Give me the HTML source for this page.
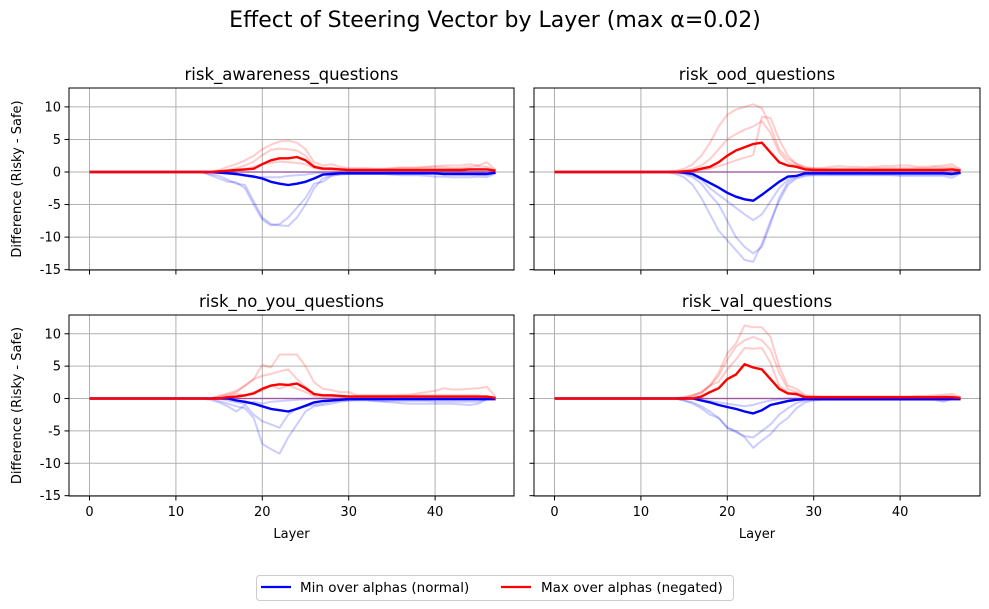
<!DOCTYPE html>
<html><head><meta charset="utf-8"><style>
body{margin:0;background:#fff;}
svg{display:block;font-family:"DejaVu Sans","Liberation Sans",sans-serif;}
</style></head><body>
<svg id="c" width="989" height="609" viewBox="0 0 989 609" xmlns="http://www.w3.org/2000/svg">
<text x="495" y="27" text-anchor="middle" font-size="22">Effect of Steering Vector by Layer (max α=0.02)</text>
<g>
<rect x="256.5" y="575.5" width="477" height="25" rx="3" fill="#fff" stroke="#ccc"/>
<line x1="261" y1="587" x2="291" y2="587" stroke="#0000ff" stroke-width="2.2"/>
<text x="300" y="592" font-size="13.5">Min over alphas (normal)</text>
<line x1="501" y1="587" x2="531" y2="587" stroke="#ff0000" stroke-width="2.2"/>
<text x="541" y="592" font-size="13.5">Max over alphas (negated)</text>
</g>
</svg>
<script>
const layers = Array.from({length:48},(_,i)=>i);
const panelTitles = ["risk_awareness_questions","risk_ood_questions","risk_no_you_questions","risk_val_questions"];
const yTicks = [10,5,0,-5,-10,-15];
const xTicks = [0,10,20,30,40];
const Z = n => Array(n).fill(0);
const maxTL = [...Z(15),0.1,0.2,0.3,0.4,0.5,1.2,1.8,2.1,2.1,2.3,1.8,0.8,0.5,0.5,0.4,0.3,0.3,0.3,0.3,0.3,0.3,0.3,0.3,0.3,0.3,0.3,0.3,0.3,0.3,0.4,0.4,0.4,0.2];
const minTL = [...Z(15),-0.1,-0.2,-0.3,-0.5,-0.7,-1.0,-1.5,-1.8,-2.0,-1.8,-1.5,-1.0,-0.4,-0.3,-0.2,-0.2,-0.2,-0.2,-0.2,-0.2,-0.2,-0.2,-0.2,-0.2,-0.2,-0.2,-0.3,-0.3,-0.3,-0.3,-0.3,-0.3,-0.1];
const maxTR = [...Z(15),0.1,0.2,0.5,0.8,1.5,2.5,3.3,3.8,4.3,4.5,3.0,1.5,1.0,0.8,0.4,0.3,0.3,0.3,0.3,0.3,0.3,0.3,0.3,0.3,0.3,0.3,0.3,0.3,0.3,0.3,0.3,0.4,0.2];
const minTR = [...Z(15),-0.1,-0.3,-1.0,-1.7,-2.4,-3.2,-3.8,-4.2,-4.4,-3.5,-2.5,-1.5,-0.7,-0.6,-0.2,-0.2,-0.2,-0.2,-0.2,-0.2,-0.2,-0.2,-0.2,-0.2,-0.2,-0.2,-0.2,-0.2,-0.2,-0.2,-0.2,-0.3,-0.1];
const maxBL = [...Z(16),0.2,0.3,0.5,0.8,1.5,2.0,2.2,2.1,2.3,1.6,0.7,0.5,0.5,0.4,0.3,0.3,0.3,0.3,0.3,0.3,0.3,0.3,0.3,0.3,0.3,0.3,0.3,0.3,0.3,0.3,0.3,0.1];
const minBL = [...Z(17),-0.3,-0.5,-0.8,-1.2,-1.6,-1.8,-2.0,-1.6,-1.1,-0.6,-0.4,-0.3,-0.2,-0.1,-0.1,-0.1,-0.1,-0.1,-0.1,-0.1,-0.1,-0.1,-0.1,-0.1,-0.1,-0.1,-0.1,-0.1,-0.1,-0.1,-0.1];
const maxBR = [...Z(17),0.3,1.0,1.6,3.0,3.7,5.3,4.8,4.5,3.0,1.5,0.8,0.7,0.2,0.2,0.2,0.2,0.2,0.2,0.2,0.2,0.2,0.2,0.2,0.2,0.2,0.2,0.2,0.2,0.2,0.2,0.1];
const minBR = [...Z(17),-0.3,-0.6,-1.0,-1.3,-1.6,-2.0,-2.3,-1.8,-1.0,-0.7,-0.4,-0.2,-0.1,-0.1,-0.1,-0.1,-0.1,-0.1,-0.1,-0.1,-0.1,-0.1,-0.1,-0.1,-0.1,-0.1,-0.1,-0.1,-0.1,-0.1,-0.1];
const fRedTL1 = [...Z(15),0.3,0.8,1.2,1.8,2.5,3.5,4.2,4.7,4.8,4.5,3.5,1.5,1.0,1.2,0.8,0.6,0.6,0.6,0.5,0.5,0.6,0.7,0.7,0.7,0.8,0.9,1.0,1.0,1.0,1.2,1.0,1.5,0.3];
const fRedTL2 = [...Z(16),0.3,0.6,1.0,1.6,2.6,3.4,3.6,3.5,3.3,2.5,1.0,0.6,0.6,0.5,0.4,0.4,0.4,0.4,0.4,0.5,0.6,0.6,0.6,0.7,0.7,0.7,0.6,0.6,0.8,0.9,0.8,0.2];
const fRedTL3 = [...Z(16),0.2,0.3,0.5,0.8,1.2,1.4,1.6,1.5,1.4,1.2,0.6,0.4,0.3,0.3,0.3,0.3,0.3,0.3,0.3,0.3,0.3,0.3,0.3,0.4,0.4,0.4,0.4,0.4,0.5,0.5,0.5,0.2];
const fBlueTL1 = [...Z(14),-0.3,-0.6,-1.2,-1.8,-2.0,-4.5,-7.0,-8.0,-8.2,-8.3,-7.0,-5.0,-2.5,-1.0,-0.5,-0.3,-0.3,-0.3,-0.3,-0.3,-0.3,-0.4,-0.5,-0.5,-0.5,-0.6,-0.7,-0.7,-0.8,-0.8,-0.8,-0.7,-0.8,-0.2];
const fBlueTL2 = [...Z(14),-0.5,-1.0,-1.5,-1.6,-2.5,-5.0,-7.3,-8.2,-8.0,-7.0,-5.5,-4.0,-1.8,-1.5,-0.6,-0.4,-0.3,-0.3,-0.3,-0.3,-0.3,-0.3,-0.3,-0.3,-0.3,-0.3,-0.3,-0.3,-0.4,-0.4,-0.4,-0.4,-0.5,-0.1];
const fBlueTL3 = [...Z(16),-0.2,-0.4,-0.6,-0.8,-0.8,-0.8,-0.8,-0.6,-0.5,-0.4,-0.2,-0.1,-0.1,...Z(19)];
const fRedTR1 = [...Z(14),0.2,0.5,1.2,2.5,4.5,7.0,8.8,9.6,10.0,10.4,9.8,7.0,3.5,2.0,1.3,0.8,0.6,0.6,0.8,0.9,0.8,0.8,0.7,0.8,0.9,0.9,1.0,1.0,0.8,0.8,0.9,1.0,1.2,0.4];
const fRedTR2 = [...Z(15),0.2,0.5,1.0,2.0,3.5,5.0,5.8,6.5,7.0,7.8,6.0,3.0,1.5,1.0,0.6,0.5,0.5,0.5,0.5,0.5,0.5,0.5,0.6,0.6,0.6,0.6,0.6,0.6,0.6,0.7,0.7,0.8,0.3];
const fRedTR3 = [...Z(16),0.1,0.3,0.5,0.9,1.3,1.8,2.2,2.6,8.5,8.3,5.0,2.5,1.2,0.6,0.4,0.4,0.4,0.4,0.4,0.4,0.4,0.4,0.4,0.4,0.4,0.4,0.4,0.4,0.4,0.5,0.5,0.2];
const fBlueTR1 = [...Z(14),-0.3,-0.8,-2.0,-4.0,-6.5,-9.0,-10.5,-12.0,-13.5,-13.8,-11.0,-7.5,-4.5,-2.0,-1.0,-0.6,-0.5,-0.5,-0.5,-0.5,-0.5,-0.5,-0.5,-0.5,-0.5,-0.5,-0.6,-0.6,-0.6,-0.6,-0.6,-0.6,-0.9,-0.2];
const fBlueTR2 = [...Z(15),-0.3,-0.8,-1.8,-3.5,-5.0,-7.5,-10.0,-11.5,-12.5,-11.5,-8.0,-4.0,-1.6,-0.8,-0.5,-0.4,-0.4,-0.4,-0.4,-0.4,-0.4,-0.4,-0.4,-0.4,-0.4,-0.4,-0.4,-0.4,-0.4,-0.4,-0.4,-0.5,-0.1];
const fBlueTR3 = [...Z(15),-0.2,-0.5,-1.2,-2.5,-3.5,-4.5,-5.5,-6.5,-7.4,-6.5,-4.5,-2.5,-1.2,-0.6,-0.3,-0.3,-0.3,-0.3,-0.3,-0.3,-0.3,-0.3,-0.3,-0.3,-0.3,-0.3,-0.3,-0.3,-0.3,-0.3,-0.3,-0.3,-0.1];
const fRedBL1 = [...Z(15),0.4,0.8,1.2,2.0,3.0,5.2,4.8,6.8,6.8,6.8,5.0,2.5,1.5,1.3,1.0,1.0,0.5,0.5,0.5,0.5,0.5,0.6,0.6,0.8,1.0,1.2,1.6,1.4,1.4,1.5,1.6,1.8,0.3];
const fRedBL2 = [...Z(15),0.3,0.6,1.0,2.0,3.0,3.5,3.8,4.2,4.5,3.0,1.8,0.6,0.5,0.4,0.4,0.4,0.4,0.4,0.4,0.4,0.4,0.4,0.4,0.5,0.5,0.5,0.5,0.5,0.5,0.5,0.5,0.1];
const fRedBL3 = [...Z(15),0.2,0.4,0.8,0.4,1.0,1.2,2.0,1.5,2.0,1.5,1.0,0.4,0.3,0.3,0.3,0.3,0.3,0.3,0.3,0.3,0.3,0.3,0.3,0.3,0.3,0.3,0.3,0.3,0.3,0.3,0.3,0.1];
const fBlueBL1 = [...Z(15),-0.4,-0.8,-1.2,-1.5,-3.0,-7.0,-7.8,-8.5,-6.0,-4.0,-2.0,-1.2,-1.0,-0.8,-0.5,-0.3,-0.3,-0.3,-0.4,-0.5,-0.6,-0.7,-0.8,-0.8,-0.8,-0.8,-0.8,-0.8,-0.9,-1.0,-0.8,-0.1];
const fBlueBL2 = [...Z(14),-0.2,-0.6,-1.2,-2.0,-1.0,-2.5,-3.5,-4.0,-4.5,-2.5,-1.5,-1.2,-1.0,-0.8,-0.5,-0.3,-0.3,-0.2,-0.2,-0.3,-0.4,-0.4,-0.4,-0.4,-0.4,-0.4,-0.5,-0.5,-0.5,-0.5,-0.5,-0.5,-0.1];
const fBlueBL3 = [...Z(16),-0.3,-0.6,-0.8,-0.5,-0.8,-0.5,-0.4,-0.3,-0.2,-0.1,...Z(22)];
const fRedBR1 = [...Z(15),0.2,0.5,1.0,2.0,4.0,7.0,8.5,11.3,11.0,11.0,9.5,5.0,2.0,1.5,0.5,0.4,0.3,0.3,0.3,0.3,0.3,0.3,0.3,0.3,0.3,0.3,0.3,0.4,0.4,0.5,0.6,0.7,0.2];
const fRedBR2 = [...Z(15),0.2,0.5,1.0,2.0,3.5,6.0,8.0,9.0,9.5,9.0,7.5,4.0,1.5,1.0,0.4,0.3,0.3,0.3,0.3,0.3,0.3,0.3,0.3,0.3,0.3,0.3,0.3,0.3,0.3,0.3,0.4,0.4,0.1];
const fRedBR3 = [...Z(16),0.3,0.8,2.0,2.6,4.5,6.0,7.8,7.7,7.8,5.5,2.0,1.0,0.5,0.3,0.2,0.2,0.2,0.2,0.2,0.2,0.2,0.2,0.2,0.2,0.2,0.2,0.2,0.2,0.2,0.2,0.1];
const fBlueBR1 = [...Z(15),-0.3,-0.8,-1.5,-2.5,-3.0,-4.5,-5.0,-6.0,-7.6,-6.5,-5.5,-4.0,-3.0,-1.5,-0.6,-0.3,-0.2,-0.2,-0.2,-0.2,-0.2,-0.2,-0.2,-0.2,-0.2,-0.2,-0.2,-0.2,-0.2,-0.2,-0.5,-0.1];
const fBlueBR2 = [...Z(15),-0.3,-0.6,-1.2,-2.0,-3.0,-4.5,-5.2,-5.8,-6.0,-5.0,-4.0,-2.5,-1.5,-0.7,-0.3,-0.2,-0.2,-0.2,-0.2,-0.2,-0.2,-0.2,-0.2,-0.2,-0.2,-0.2,-0.2,-0.2,-0.2,-0.2,-0.3,-0.1];
const fBlueBR3 = [...Z(17),-0.2,-0.4,-0.6,-0.8,-1.0,-1.2,-1.0,-0.6,-0.3,-0.1,...Z(21)];

const panels = [
 {title:panelTitles[0],L:69,R:514,T:88,B:270,maxS:maxTL,minS:minTL,reds:[fRedTL1,fRedTL2,fRedTL3],blues:[fBlueTL1,fBlueTL2,fBlueTL3],ylab:true,xlab:false,name:'panel-risk-awareness'},
 {title:panelTitles[1],L:534,R:980,T:88,B:270,maxS:maxTR,minS:minTR,reds:[fRedTR1,fRedTR2,fRedTR3],blues:[fBlueTR1,fBlueTR2,fBlueTR3],ylab:false,xlab:false,name:'panel-risk-ood'},
 {title:panelTitles[2],L:69,R:514,T:315,B:496,maxS:maxBL,minS:minBL,reds:[fRedBL1,fRedBL2,fRedBL3],blues:[fBlueBL1,fBlueBL2,fBlueBL3],ylab:true,xlab:true,name:'panel-risk-no-you'},
 {title:panelTitles[3],L:534,R:980,T:315,B:496,maxS:maxBR,minS:minBR,reds:[fRedBR1,fRedBR2,fRedBR3],blues:[fBlueBR1,fBlueBR2,fBlueBR3],ylab:false,xlab:true,name:'panel-risk-val'}
];
const NS='http://www.w3.org/2000/svg';
const svg=document.getElementById('c');
function mk(tag,attrs,parent){const e=document.createElementNS(NS,tag);for(const k in attrs)e.setAttribute(k,attrs[k]);parent.appendChild(e);return e;}
panels.forEach(p=>{
  const g=mk('g',{},svg);
  
  
  const x0=p.L+20.5, x10=x0+86.4;
  const xs=v=>x0+(x10-x0)*v/10;
  const yMin=-15.05, yMax=12.9;
  const ys=v=>p.B-(v-yMin)/(yMax-yMin)*(p.B-p.T);
  xTicks.forEach(t=>{
    const l=mk('line',{x1:xs(t),x2:xs(t),y1:p.T,y2:p.B,stroke:'#b0b0b0','stroke-width':1},g);
    
    
    mk('line',{x1:xs(t),x2:xs(t),y1:p.B,y2:p.B+4.5,stroke:'#000','stroke-width':1},g);
    if(p.xlab){const tx=mk('text',{x:xs(t),y:p.B+20,'text-anchor':'middle','font-size':13},g);tx.textContent=t;
      
      }
  });
  yTicks.forEach(t=>{
    const l=mk('line',{x1:p.L,x2:p.R,y1:ys(t),y2:ys(t),stroke:'#b0b0b0','stroke-width':1},g);
    
    
    mk('line',{x1:p.L-4.5,x2:p.L,y1:ys(t),y2:ys(t),stroke:'#000','stroke-width':1},g);
    if(p.ylab){const tx=mk('text',{x:p.L-8,y:ys(t)+4.5,'text-anchor':'end','font-size':13},g);tx.textContent=t;
      
      }
  });
  const line=(arr,color,w,op,name)=>{
    const d=arr.map((v,i)=>(i?'L':'M')+xs(layers[i]).toFixed(1)+','+ys(v).toFixed(1)).join('');
    const e=mk('path',{d:d,fill:'none',stroke:color,'stroke-width':w,'stroke-opacity':op,'stroke-linejoin':'round'},g);
    
    
  };
  p.blues.forEach(a=>line(a,'#0000ff',2,0.2,'alpha-line-normal'));
  p.reds.forEach(a=>line(a,'#ff0000',2,0.2,'alpha-line-negated'));
  line(Z(48),'#800080',1.5,0.5,'zero-line');
  line(p.minS,'#0000ff',2.4,1,'min-series-line');
  line(p.maxS,'#ff0000',2.4,1,'max-series-line');
  mk('rect',{x:p.L,y:p.T,width:p.R-p.L,height:p.B-p.T,fill:'none',stroke:'#000','stroke-width':1},g);
  const tt=mk('text',{x:(p.L+p.R)/2,y:p.T-8,'text-anchor':'middle','font-size':16.5},g);tt.textContent=p.title;
  
  
  if(p.ylab){const yl=mk('text',{x:0,y:0,'text-anchor':'middle','font-size':13,transform:`translate(21,${(p.T+p.B)/2}) rotate(-90)`},g);yl.textContent='Difference (Risky - Safe)';
    
    }
  if(p.xlab){const xl=mk('text',{x:(p.L+p.R)/2,y:p.B+42,'text-anchor':'middle','font-size':13},g);xl.textContent='Layer';
    
    }
});
</script>
</body></html>
